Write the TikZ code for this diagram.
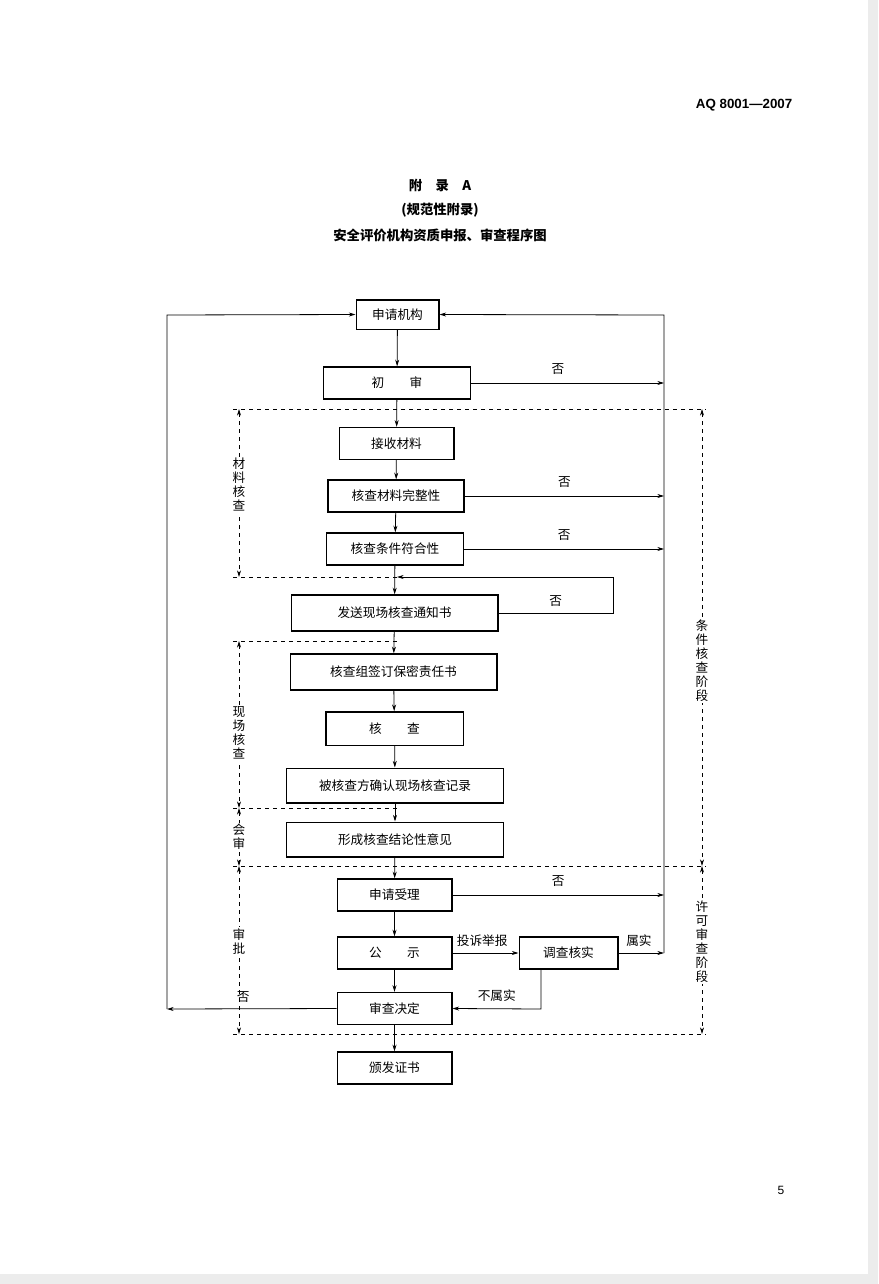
\documentclass[tikz,border=0pt]{standalone}
\usepackage{fontspec}
\setmainfont{Liberation Sans}
\newfontfamily\cjk{Noto Sans CJK SC}
\usetikzlibrary{arrows.meta}
\begin{document}
\begin{tikzpicture}[x=0.75pt,y=-0.75pt,
  box/.style={draw,line width=1pt,minimum height=24pt,inner sep=0pt,font=\cjk\fontsize{9.5}{11}\selectfont},
  ar/.style={-{Stealth[length=5pt,width=3pt]},line width=0.6pt},
  dv/.style={{Stealth[length=5pt,width=3pt]}-{Stealth[length=5pt,width=3pt]},dashed,line width=0.6pt},
  dl/.style={dashed,line width=0.6pt},
  lab/.style={font=\cjk\fontsize{9.5}{11}\selectfont},
  vl/.style={font=\cjk\fontsize{9.5}{10.5}\selectfont,fill=white,inner sep=1pt,align=center}]
\fill[gray!15] (0,0) rectangle (878,1284);
\fill[white] (0,0) rectangle (868,1274);
\useasboundingbox (0,0) rectangle (878,1284);
\node[font=\bfseries\fontsize{10}{12}\selectfont,anchor=east] (hdr) at (797,105) {AQ 8001—2007};
\node[font=\cjk\bfseries\fontsize{10}{12}\selectfont] (t1) at (440,185) {附\quad 录\quad A};
\node[font=\cjk\bfseries\fontsize{10}{12}\selectfont] (t2) at (440,210) {(规范性附录)};
\node[font=\cjk\bfseries\fontsize{10}{12}\selectfont] (t3) at (440,235) {安全评价机构资质申报、审查程序图};
\node[font=\fontsize{9}{11}\selectfont] (pg) at (781,1190) {5};

\node[box,minimum width=62pt,minimum height=22pt] (b1) at (397.5,314.5) {申请机构};
\node[box,minimum width=110pt] (b2) at (397,383) {初\qquad 审};
\node[box,minimum width=86pt] (b3) at (396.5,443.5) {接收材料};
\node[box,minimum width=102pt] (b4) at (396,496) {核查材料完整性};
\node[box,minimum width=103pt] (b5) at (395,549) {核查条件符合性};
\node[box,minimum width=155pt,minimum height=27pt] (b6) at (394.5,613) {发送现场核查通知书};
\node[box,minimum width=155pt,minimum height=27pt] (b7) at (393.5,672) {核查组签订保密责任书};
\node[box,minimum width=103pt,minimum height=25pt] (b8) at (394.5,728.5) {核\qquad 查};
\node[box,minimum width=163pt,minimum height=26pt] (b9) at (395,785.5) {被核查方确认现场核查记录};
\node[box,minimum width=163pt,minimum height=26pt] (b10) at (395,839.5) {形成核查结论性意见};
\node[box,minimum width=86pt] (b11) at (394.5,895) {申请受理};
\node[box,minimum width=86pt] (b12) at (394.5,953) {公\qquad 示};
\node[box,minimum width=74pt] (b13) at (568.5,953) {调查核实};
\node[box,minimum width=86pt] (b14) at (394.5,1008.5) {审查决定};
\node[box,minimum width=86pt] (b15) at (394.5,1068) {颁发证书};

% main chain
\draw[ar] (b1) -- (b2);
\draw[ar] (b2) -- (b3);
\draw[ar] (b3) -- (b4);
\draw[ar] (b4) -- (b5);
\draw[ar] (b5) -- (b6);
\draw[ar] (b6) -- (b7);
\draw[ar] (b7) -- (b8);
\draw[ar] (b8) -- (b9);
\draw[ar] (b9) -- (b10);
\draw[ar] (b10) -- (b11);
\draw[ar] (b11) -- (b12);
\draw[ar] (b12) -- (b14);
\draw[ar] (b14) -- (b15);

% right return line
\coordinate (r0) at (664,315);
\coordinate (r1) at (664,383);
\coordinate (r2) at (664,496);
\coordinate (r3) at (664,549);
\coordinate (r4) at (664,895);
\coordinate (r5) at (664,953);
\draw[ar] (r5) -- (r0) -- (b1.east);
\draw[ar] (b2.east) -- node[lab,above=3pt,pos=0.45]{否} (r1);
\draw[ar] (b4.east) -- node[lab,above=3pt]{否} (r2);
\draw[ar] (b5.east) -- node[lab,above=3pt]{否} (r3);
\draw[ar] (b11.east) -- node[lab,above=3pt]{否} (r4);
\draw[ar] (b13.east) -- node[lab,above=1pt,pos=0.45]{属实} (r5);
\draw[ar] (b12.east) -- node[lab,above=1pt,pos=0.45]{投诉举报} (b13.west);
\draw[ar] (b13.south -| 541,0) -- (541,1009) -- node[lab,above=2pt]{不属实} (b14.east);

% loop from b6
\coordinate (lp1) at (613,613);
\coordinate (lp2) at (613,577);
\coordinate (lp3) at (397,577);
\draw[ar] (b6.east) -- node[lab,above=1pt]{否} (lp1) -- (lp2) -- (lp3);

% left return line
\coordinate (l0) at (167,1009);
\coordinate (l1) at (167,315);
\draw[ar] (b14.west) -- node[lab,above=1pt,pos=0.55]{否} (l0);
\draw[ar] (l0) -- (l1) -- (b1.west);

% dashed frames
\draw[dl] (233,409) -- (706,409);
\draw[dl] (233,577) -- (397,577);
\draw[dl] (233,641) -- (397,641);
\draw[dl] (233,808) -- (397,808);
\draw[dl] (233,866) -- (706,866);
\draw[dl] (233,1034) -- (706,1034);

\draw[dv] (239,409) -- node[vl,pos=0.45]{材\\料\\核\\查} (239,577);
\draw[dv] (239,641) -- node[vl,pos=0.55]{现\\场\\核\\查} (239,808);
\draw[dv] (239,808) -- node[vl]{会\\审} (239,866);
\draw[dv] (239,866) -- node[vl,pos=0.45]{审\\批} (239,1034);
\draw[dv] (702,409) -- node[vl,pos=0.55]{条\\件\\核\\查\\阶\\段} (702,866);
\draw[dv] (702,866) -- node[vl,pos=0.45]{许\\可\\审\\查\\阶\\段} (702,1034);
\end{tikzpicture}
\end{document}
